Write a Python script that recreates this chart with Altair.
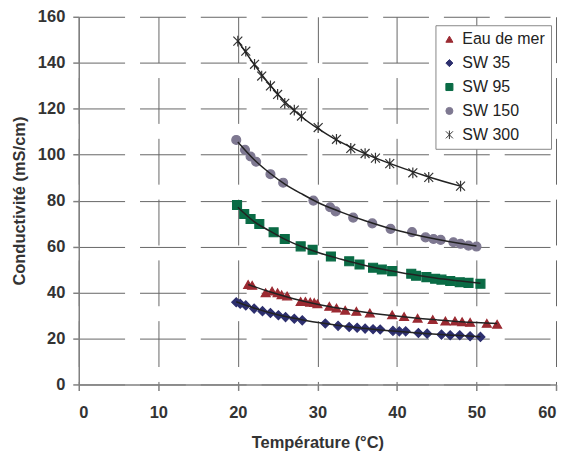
import altair as alt
import pandas as pd

series_names = ["Eau de mer", "SW 35", "SW 95", "SW 150", "SW 300"]
series_colors = ["#9B2A32", "#2D2F6E", "#0A6B45", "#7E7891", "#333333"]
series_fill = ["#9B2A32", "#2D2F6E", "#0A6B45", "#7E7891", "transparent"]
asterisk = "M-1,-1L1,1M-1,1L1,-1M0,-1.2L0,1.2"
series_shapes = ["triangle-up", "diamond", "square", "circle", asterisk]

x_ticks = [0, 10, 20, 30, 40, 50, 60]
y_ticks = [0, 20, 40, 60, 80, 100, 120, 140, 160]

eau_x = [21.3, 21.8, 23.5, 24.3, 25.0, 25.5, 26.2, 27.9, 28.5, 29.1, 29.6, 30.0, 31.5, 32.4, 33.5, 34.9, 36.6, 39.4, 40.9, 42.6, 44.5, 46.1, 47.3, 48.2, 49.2, 51.3, 52.6]
eau_y = [43.5, 43.1, 39.9, 40.6, 39.9, 39.0, 38.5, 36.1, 36.1, 35.8, 35.6, 35.1, 34.0, 33.2, 32.3, 31.8, 31.1, 30.3, 29.5, 28.8, 28.2, 27.6, 27.6, 27.3, 27.0, 26.6, 26.2]

sw35_x = [19.8, 20.3, 21.0, 22.05, 23.1, 24.1, 25.1, 26.0, 27.1, 28.1, 31.0, 32.6, 34.0, 35.0, 36.0, 37.0, 37.9, 39.5, 40.3, 41.1, 42.7, 43.8, 45.6, 46.7, 47.9, 49.2, 50.5]
sw35_y = [35.8, 35.1, 34.4, 33.0, 31.9, 31.1, 30.1, 29.3, 28.6, 27.9, 26.5, 25.5, 25.0, 24.7, 24.3, 24.0, 23.9, 23.3, 23.1, 23.1, 22.4, 22.1, 21.7, 21.4, 21.4, 21.0, 20.7]

sw95_x = [19.9, 20.8, 21.6, 22.7, 24.5, 25.9, 27.9, 29.4, 31.7, 34.0, 35.3, 37.0, 38.1, 39.4, 41.8, 42.4, 43.7, 44.8, 45.6, 46.7, 47.9, 49.0, 50.5]
sw95_y = [78.1, 74.2, 72.0, 69.8, 66.2, 63.3, 60.1, 58.6, 55.7, 53.6, 52.2, 50.8, 50.0, 49.3, 48.2, 47.3, 46.7, 46.0, 45.6, 45.0, 44.5, 44.2, 43.8]

sw150_x = [19.8, 20.9, 21.6, 22.3, 24.1, 25.7, 29.5, 31.6, 32.3, 34.5, 36.9, 39.2, 41.9, 43.6, 44.6, 45.5, 47.1, 48.0, 49.0, 50.0]
sw150_y = [106.4, 102.1, 99.2, 96.9, 91.5, 87.8, 80.0, 77.1, 75.3, 72.6, 70.1, 67.7, 66.3, 64.0, 63.3, 62.9, 61.9, 61.2, 60.4, 60.0]

sw300_x = [20.0, 21.0, 22.1, 23.0, 24.1, 25.0, 25.9, 27.1, 28.0, 30.1, 32.4, 34.2, 36.0, 37.3, 39.1, 42.0, 44.0, 48.0]
sw300_y = [149.4, 145.0, 139.3, 134.2, 129.9, 126.2, 122.3, 119.4, 116.8, 111.8, 106.7, 102.7, 100.5, 98.5, 96.1, 92.1, 90.1, 86.3]

# trend curves
tr_eau_x = [21.3, 24, 27, 30, 33, 36, 39, 42, 45, 48, 52.6]
tr_eau_y = [43.5, 40.3, 37.3, 34.9, 33.0, 31.4, 30.1, 29.0, 28.1, 27.3, 26.5]
tr_35_x = [19.8, 22, 25, 28, 31, 34, 37, 40, 43, 46, 50.5]
tr_35_y = [36.0, 33.3, 30.3, 28.2, 26.5, 25.1, 24.0, 23.1, 22.3, 21.6, 20.8]
tr_95_x = [20, 22, 24, 26, 28, 30, 33, 36, 39, 42, 45, 48, 50.5]
tr_95_y = [77.1, 71.0, 66.8, 63.0, 60.0, 57.5, 54.5, 51.8, 49.6, 47.8, 46.2, 45.0, 44.0]
tr_150_x = [20, 22, 24, 26, 28, 30, 33, 36, 39, 42, 45, 48, 50]
tr_150_y = [105.5, 98.0, 92.0, 87.0, 83.0, 79.3, 75.0, 71.2, 68.0, 65.4, 63.2, 61.3, 60.2]
tr_300_x = [20, 22, 24, 26, 28, 30, 32, 35, 38, 41, 44, 48]
tr_300_y = [149.5, 139.5, 130.5, 122.7, 116.5, 111.5, 107.2, 102.0, 97.6, 93.8, 90.3, 86.3]

pts = []
for name, xs, ys in [("Eau de mer", eau_x, eau_y), ("SW 35", sw35_x, sw35_y),
                     ("SW 95", sw95_x, sw95_y), ("SW 150", sw150_x, sw150_y),
                     ("SW 300", sw300_x, sw300_y)]:
    for a, b in zip(xs, ys):
        pts.append({"s": name, "T": a, "C": b})
pts_df = pd.DataFrame(pts)

tr = []
for name, xs, ys in [("Eau de mer", tr_eau_x, tr_eau_y), ("SW 35", tr_35_x, tr_35_y),
                     ("SW 95", tr_95_x, tr_95_y), ("SW 150", tr_150_x, tr_150_y),
                     ("SW 300", tr_300_x, tr_300_y)]:
    for a, b in zip(xs, ys):
        tr.append({"s": name, "T": a, "C": b})
tr_df = pd.DataFrame(tr)

xenc = alt.X("T:Q", scale=alt.Scale(domain=[0, 60], nice=False),
             axis=alt.Axis(title="Température (°C)", values=x_ticks, gridDash=[46, 15],
                           labelPadding=14, titlePadding=14))
yenc = alt.Y("C:Q", scale=alt.Scale(domain=[0, 160], nice=False),
             axis=alt.Axis(title="Conductivité (mS/cm)", values=y_ticks, gridDash=[46, 15],
                           labelPadding=8, titlePadding=10))

leg = alt.Legend(title=None)

points = alt.Chart(pts_df).mark_point(filled=True, size=80, opacity=1, strokeWidth=1.2).encode(
    x=xenc, y=yenc,
    shape=alt.Shape("s:N", scale=alt.Scale(domain=series_names, range=series_shapes), legend=leg),
    fill=alt.Fill("s:N", scale=alt.Scale(domain=series_names, range=series_fill), legend=leg),
    stroke=alt.Stroke("s:N", scale=alt.Scale(domain=series_names, range=series_colors), legend=leg),
)

lines = alt.Chart(tr_df).mark_line(color="#222222", strokeWidth=1.5, interpolate="monotone").encode(
    x="T:Q", y="C:Q", detail="s:N"
)

chart = alt.layer(points, lines).properties(
    width=479, height=369,
    autosize=alt.AutoSizeParams(type="none"),
    padding={"left": 71, "top": 8, "right": 4, "bottom": 68},
).configure_view(stroke=None).configure_axis(
    labelFont="Liberation Sans", labelFontWeight="bold", labelFontSize=16.5, labelColor="#333333",
    titleFont="Liberation Sans", titleFontWeight="bold", titleFontSize=16.5, titleColor="#333333",
    gridColor="#666666", gridWidth=1, gridOpacity=1,
    domainColor="#808080", domainWidth=1.5, tickColor="#808080", tickSize=6, tickWidth=1.5,
).configure_legend(
    orient="none", legendX=358, legendY=8.5, padding=6,
    strokeColor="#888888", fillColor="white",
    labelFont="Liberation Sans", labelFontSize=16, labelColor="#222222",
    symbolSize=50, symbolStrokeWidth=1, rowPadding=8, labelOffset=5, cornerRadius=0,
)

chart.save("out.html", embed_options={"renderer": "svg", "actions": False})
